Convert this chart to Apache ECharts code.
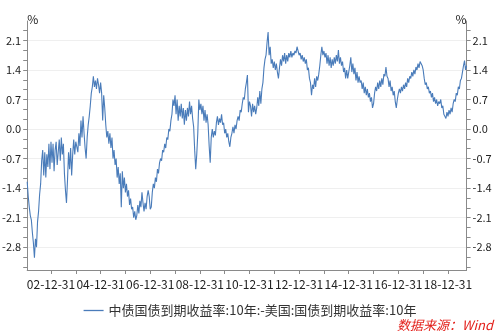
<!DOCTYPE html>
<html>
<head>
<meta charset="utf-8">
<script src="https://cdn.jsdelivr.net/npm/echarts@6/dist/echarts.min.js"></script>
<style>
html,body{margin:0;padding:0;background:#fff;}
#chart{width:500px;height:336px;}
</style>
</head>
<body>
<div id="chart"></div>
<script>
// ---- data ----
const seriesName = '中债国债到期收益率:10年:-美国:国债到期收益率:10年';
const sourceText = '数据来源：Wind';
const firstYear = 2002;
const pointCount = 426; // 2002-01-15 .. 2019-09-30, two points per month (15th, month end)

// spread (%), two readings per month
const spread2002 = [-1.25,-1.6,-1.85,-2.05,-2.15,-2.45,-2.7,-3.05,-2.6,-2.8,-2.2,-1.95,-1.55,-1.3,-0.75,-0.5,-1.1,-0.55,-1.15,-0.6,-0.9,-0.35,-0.95,-0.3];
const spread2003 = [-0.8,-0.35,-1.0,-0.5,-0.3,-0.85,-0.55,-0.25,-0.75,-0.2,-0.6,-0.35,-1.05,-1.45,-1.75,-1.2,-0.55,-0.95,-0.45,-1.1,-0.6,-0.25,-0.6,-0.3];
const spread2004 = [-0.3,-0.55,-0.1,-0.4,0.2,-0.2,0.3,-0.1,-0.45,-0.7,-0.2,0.1,0.3,0.55,0.85,1.0,1.25,1.0,1.15,0.95,1.2,1.05,0.85,1.1];
const spread2005 = [0.85,0.2,0.8,0.5,0.1,-0.2,-0.05,-0.35,-0.1,-0.45,-0.2,-0.7,-0.5,-0.85,-0.7,-1.15,-0.9,-1.3,-1.05,-1.85,-1.0,-1.4,-1.15,-1.5];
const spread2006 = [-1.3,-1.6,-1.45,-1.8,-1.65,-1.9,-1.85,-2.1,-1.95,-2.15,-2.05,-1.8,-2.0,-1.7,-1.85,-1.5,-1.75,-1.95,-1.75,-1.9,-1.6,-1.45,-1.6,-1.9];
const spread2007 = [-1.85,-1.5,-1.3,-1.4,-1.15,-1.25,-0.95,-1.05,-0.8,-0.7,-0.75,-0.5,-0.55,-0.35,-0.45,-0.2,-0.25,0.0,-0.05,0.2,0.35,0.7,0.55,0.8];
const spread2008 = [0.35,0.7,0.2,0.55,0.3,0.6,0.25,0.5,0.1,0.45,0.2,0.5,0.3,0.65,0.35,0.55,0.25,0.05,-0.5,-0.95,-0.6,-0.1,0.7,0.45];
const spread2009 = [0.6,0.35,0.55,0.2,0.45,0.15,0.35,0.1,-0.4,-0.8,-0.2,0.0,-0.2,-0.05,-0.15,0.15,0.3,0.1,0.25,0.15,0.35,0.1,0.15,-0.1];
const spread2010 = [0.0,-0.2,-0.1,-0.3,-0.42,-0.2,-0.1,0.05,-0.1,0.1,0.0,0.2,0.3,0.2,0.45,0.4,0.6,0.75,0.7,0.95,1.1,1.28,0.4,0.65];
const spread2011 = [0.55,0.3,0.6,0.4,0.55,0.35,0.5,0.75,0.55,0.9,0.6,0.95,1.1,1.45,1.65,1.75,2.05,2.3,1.75,1.95,1.55,1.65,1.45,1.6];
const spread2012 = [1.4,1.55,1.35,1.2,1.45,1.65,1.5,1.75,1.6,1.8,1.55,1.75,1.6,1.8,1.7,1.85,1.7,1.8,1.75,1.85,1.8,1.95,1.85,1.75];
const spread2013 = [1.8,1.65,1.75,1.6,1.7,1.55,1.65,1.4,1.45,1.2,1.1,0.8,1.05,0.95,1.2,1.0,1.25,1.15,1.3,1.5,1.75,1.95,1.75,1.85];
const spread2014 = [1.7,1.8,1.55,1.75,1.5,1.7,1.45,1.65,1.5,1.7,1.55,1.75,1.6,1.87,1.55,1.7,1.5,1.6,1.35,1.45,1.2,1.4,1.2,1.35];
const spread2015 = [1.5,1.7,1.35,1.55,1.3,1.45,1.15,1.35,1.1,1.25,1.1,1.15,0.95,1.1,0.85,1.0,0.8,0.95,0.75,0.85,0.65,0.75,0.5,0.6];
const spread2016 = [0.85,1.0,0.9,1.1,0.95,1.15,1.0,1.2,1.05,1.3,1.25,1.47,1.25,1.2,1.0,1.15,0.9,1.0,0.8,0.9,0.65,0.5,0.7,0.85];
const spread2017 = [0.95,0.85,1.0,0.9,1.05,0.95,1.1,1.0,1.2,1.1,1.25,1.2,1.35,1.25,1.4,1.3,1.47,1.4,1.55,1.45,1.6,1.62,1.5,1.4];
const spread2018 = [1.2,1.05,1.1,0.95,1.0,0.85,0.9,0.75,0.85,0.65,0.75,0.6,0.7,0.55,0.65,0.6,0.7,0.5,0.55,0.35,0.3,0.25,0.4,0.3];
const spread2019 = [0.45,0.35,0.5,0.4,0.6,0.7,0.65,0.85,0.8,1.0,0.95,1.15,1.2,1.35,1.5,1.62,1.4,1.5];

const spread = [].concat(spread2002, spread2003, spread2004, spread2005, spread2006, spread2007,
  spread2008, spread2009, spread2010, spread2011, spread2012, spread2013, spread2014,
  spread2015, spread2016, spread2017, spread2018, spread2019);

// y-axis tick values
const yMin = -3.34, yMax = 2.56;
const majorTicks = [-2.8,-2.1,-1.4,-0.7,0.0,0.7,1.4,2.1];
const minorTicks = [-3.267,-3.033,-2.567,-2.333,-1.867,-1.633,-1.167,-0.933,-0.467,-0.233,0.233,0.467,0.933,1.167,1.633,1.867,2.333];

// date categories: 15th and last day of each month
const categories = [];
for (let i = 0; i < pointCount / 2; i++) {
  const y = firstYear + Math.floor(i / 12);
  const m = i % 12 + 1;
  const d = new Date(Date.UTC(y, m, 0)).getUTCDate();
  const ym = y + '-' + String(m).padStart(2, '0') + '-';
  categories.push(ym + '15', ym + String(d).padStart(2, '0'));
}

// ---- chart ----
const FONT = '"Noto Sans CJK SC", "Noto Sans", sans-serif';
const AXIS_COLOR = '#8a8a8a';
const LINE_COLOR = '#4a7cba';
const allTicks = majorTicks.concat(minorTicks).sort((a, b) => a - b);

function sideAxis(pos) {
  return {
    type: 'value', position: pos, min: yMin, max: yMax,
    name: '%', nameLocation: 'end', nameGap: 2,
    nameTextStyle: { fontFamily: FONT, fontSize: 12, color: '#222', align: pos === 'left' ? 'left' : 'right', verticalAlign: 'middle' },
    axisLine: { show: true, onZero: false, lineStyle: { color: AXIS_COLOR, width: 1 } },
    axisTick: { show: true, inside: false, length: 4, customValues: allTicks, lineStyle: { color: AXIS_COLOR } },
    axisLabel: { show: true, margin: 6, customValues: majorTicks, fontFamily: FONT, fontSize: 11, color: '#222',
      formatter: v => Number(v).toFixed(1) },
    splitLine: { show: false }
  };
}

const chart = echarts.init(document.getElementById('chart'), null, { renderer: 'canvas' });
chart.setOption({
  animation: false,
  backgroundColor: '#fff',
  grid: { left: 27.2, right: 33.4, top: 21, bottom: 66, outerBoundsMode: 'none', containLabel: false },
  legend: {
    data: [{ name: seriesName, icon: 'rect' }], left: 'center', top: 299, itemWidth: 20, itemHeight: 1.3, itemGap: 10,
    textStyle: { fontFamily: FONT, fontSize: 13, color: '#333' }
  },
  xAxis: {
    type: 'category', data: categories, boundaryGap: false,
    axisLine: { show: true, onZero: false, lineStyle: { color: AXIS_COLOR } },
    axisTick: { show: true, inside: false, length: 4, lineStyle: { color: AXIS_COLOR },
      interval: (i, v) => v.endsWith('-12-31') },
    axisLabel: { show: true, margin: 8, fontFamily: FONT, fontSize: 12, color: '#222',
      interval: (i, v) => v.endsWith('-12-31') && Number(v.slice(0, 4)) % 2 === 0,
      formatter: v => v.slice(2) },
    splitLine: { show: false }
  },
  yAxis: [
    sideAxis('left'),
    sideAxis('right'),
    {
      type: 'value', position: 'left', min: yMin, max: yMax,
      axisLine: { show: false }, axisLabel: { show: false },
      axisTick: { show: false, customValues: majorTicks },
      splitLine: { show: true, lineStyle: { color: '#efefef', width: 1 } }
    }
  ],
  graphic: [{
    type: 'text', right: 7, top: 319,
    style: { text: sourceText, fill: '#e3201b', font: 'italic 13px "Noto Sans CJK SC", sans-serif' }
  }],
  series: [{
    name: seriesName, type: 'line', data: spread, yAxisIndex: 0,
    symbol: 'none', showSymbol: false,
    lineStyle: { color: LINE_COLOR, width: 1.1 }, itemStyle: { color: LINE_COLOR }
  }]
});
</script>
</body>
</html>
